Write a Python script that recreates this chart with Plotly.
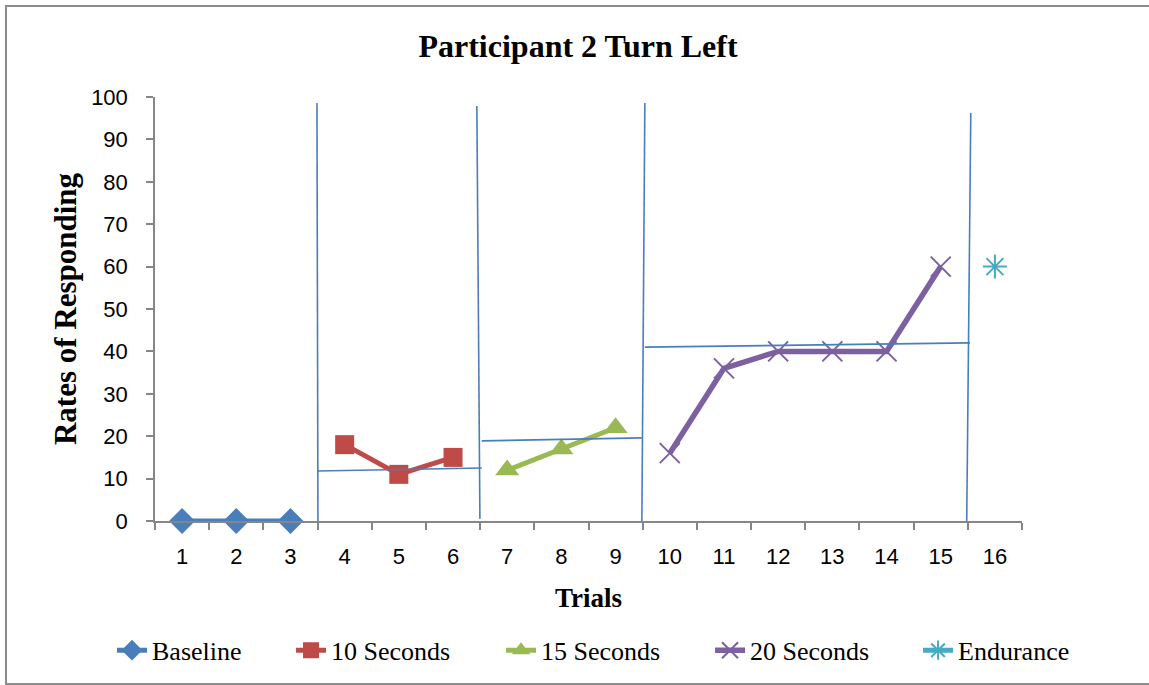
import plotly.graph_objects as go

# Trial numbers and response rates per phase
trials = [str(i) for i in range(1, 17)]

baseline_x = ["1", "2", "3"]
baseline_y = [0, 0, 0]

ten_x = ["4", "5", "6"]
ten_y = [18, 11, 15]

fifteen_x = ["7", "8", "9"]
fifteen_y = [12, 17, 22]

twenty_x = ["10", "11", "12", "13", "14", "15"]
twenty_y = [16, 36, 40, 40, 40, 60]

endurance_x = ["16"]
endurance_y = [60]

# Phase-change lines (category index, value) drawn by hand over the plot
phase_x0 = [2.489, 5.44, 8.54, 14.555]
phase_y0 = [98.6, 97.9, 98.6, 96.2]
phase_x1 = [2.507, 5.496, 8.485, 14.48]
phase_y1 = [0, 0.5, 0, 0]

# Phase mean lines
mean_x0 = [2.507, 5.53, 8.54]
mean_y0 = [11.8, 18.9, 41.0]
mean_x1 = [5.53, 8.485, 14.54]
mean_y1 = [12.5, 19.6, 42.0]

BLUE = "#4a7ebb"
RED = "#be4b48"
GREEN = "#98b954"
PURPLE = "#7d60a0"
TEAL = "#46aac5"

fig = go.Figure()

fig.add_trace(go.Scatter(
    x=baseline_x, y=baseline_y, name="Baseline", mode="lines+markers",
    line=dict(color=BLUE, width=5), cliponaxis=False, legend="legend",
    marker=dict(symbol="diamond", size=20, color=BLUE)))
fig.add_trace(go.Scatter(
    x=ten_x, y=ten_y, name="10 Seconds", mode="lines+markers",
    line=dict(color=RED, width=5), cliponaxis=False, legend="legend2",
    marker=dict(symbol="square", size=19, color=RED)))
fig.add_trace(go.Scatter(
    x=fifteen_x, y=fifteen_y, name="15 Seconds", mode="lines+markers",
    line=dict(color=GREEN, width=5), cliponaxis=False, legend="legend3",
    marker=dict(symbol="triangle-up", size=21, color=GREEN)))
fig.add_trace(go.Scatter(
    x=twenty_x, y=twenty_y, name="20 Seconds", mode="lines+markers",
    line=dict(color=PURPLE, width=5.5), cliponaxis=False, legend="legend4",
    marker=dict(symbol="x-thin-open", size=20, color=PURPLE,
                line=dict(color=PURPLE, width=2))))
fig.add_trace(go.Scatter(
    x=endurance_x, y=endurance_y, name="Endurance", mode="lines+markers",
    line=dict(color=TEAL, width=5), cliponaxis=False, legend="legend5",
    marker=dict(symbol="asterisk-open", size=20, color=TEAL,
                line=dict(color=TEAL, width=2))))

shapes = []
for x0, y0, x1, y1 in zip(phase_x0, phase_y0, phase_x1, phase_y1):
    shapes.append(dict(type="line", xref="x", yref="y", x0=x0, y0=y0, x1=x1, y1=y1,
                       line=dict(color=BLUE, width=1.6)))
for x0, y0, x1, y1 in zip(mean_x0, mean_y0, mean_x1, mean_y1):
    shapes.append(dict(type="line", xref="x", yref="y", x0=x0, y0=y0, x1=x1, y1=y1,
                       line=dict(color=BLUE, width=1.6)))
# outer chart border
shapes.append(dict(type="rect", xref="paper", yref="paper",
                   x0=-149 / 867, x1=1.25, y0=-163 / 424, y1=(521 - 6) / 424,
                   line=dict(color="#8c8c8c", width=2), fillcolor="rgba(0,0,0,0)",
                   layer="below"))

# one single-entry legend per series, spaced along the bottom
legend_font = dict(family="Liberation Serif", size=26, color="black")
legend_x = [-0.0496, 0.1569, 0.3991, 0.6402, 0.8801]
legends = {}
for i, lx in enumerate(legend_x):
    key = "legend" if i == 0 else f"legend{i + 1}"
    legends[key] = dict(x=lx, xanchor="left", y=-0.305, yanchor="middle",
                        orientation="h", font=legend_font,
                        bgcolor="rgba(0,0,0,0)", borderwidth=0)

fig.update_layout(
    width=1149, height=685,
    margin=dict(l=155, r=127, t=97, b=164, autoexpand=False),
    paper_bgcolor="white", plot_bgcolor="white",
    title=dict(text="<b>Participant 2 Turn Left</b>", x=578 / 1149, xanchor="center",
               y=1 - 46 / 685, yanchor="middle",
               font=dict(family="Liberation Serif", size=32, color="black")),
    xaxis=dict(type="category", categoryorder="array", categoryarray=trials,
               range=[-0.5, 15.5], tickson="boundaries", ticks="outside", ticklen=7,
               tickwidth=1.5, tickcolor="#868686", showline=True, linecolor="#868686",
               linewidth=1.5, showgrid=False, zeroline=False, ticklabelstandoff=15,
               tickfont=dict(family="Liberation Sans", size=22, color="black"),
               title=dict(text="<b>Trials</b>", standoff=20,
                          font=dict(family="Liberation Serif", size=27, color="black"))),
    yaxis=dict(range=[0, 100], dtick=10, ticks="outside", ticklen=7, tickwidth=1.5,
               tickcolor="#868686", showline=True, linecolor="#868686", linewidth=1.5,
               showgrid=False, zeroline=False, ticklabelstandoff=14,
               tickfont=dict(family="Liberation Sans", size=22, color="black"),
               title=dict(text="<b>Rates of Responding</b>", standoff=5,
                          font=dict(family="Liberation Serif", size=31, color="black"))),
    shapes=shapes,
    showlegend=True,
    **legends,
)

fig.write_html("out.html")
